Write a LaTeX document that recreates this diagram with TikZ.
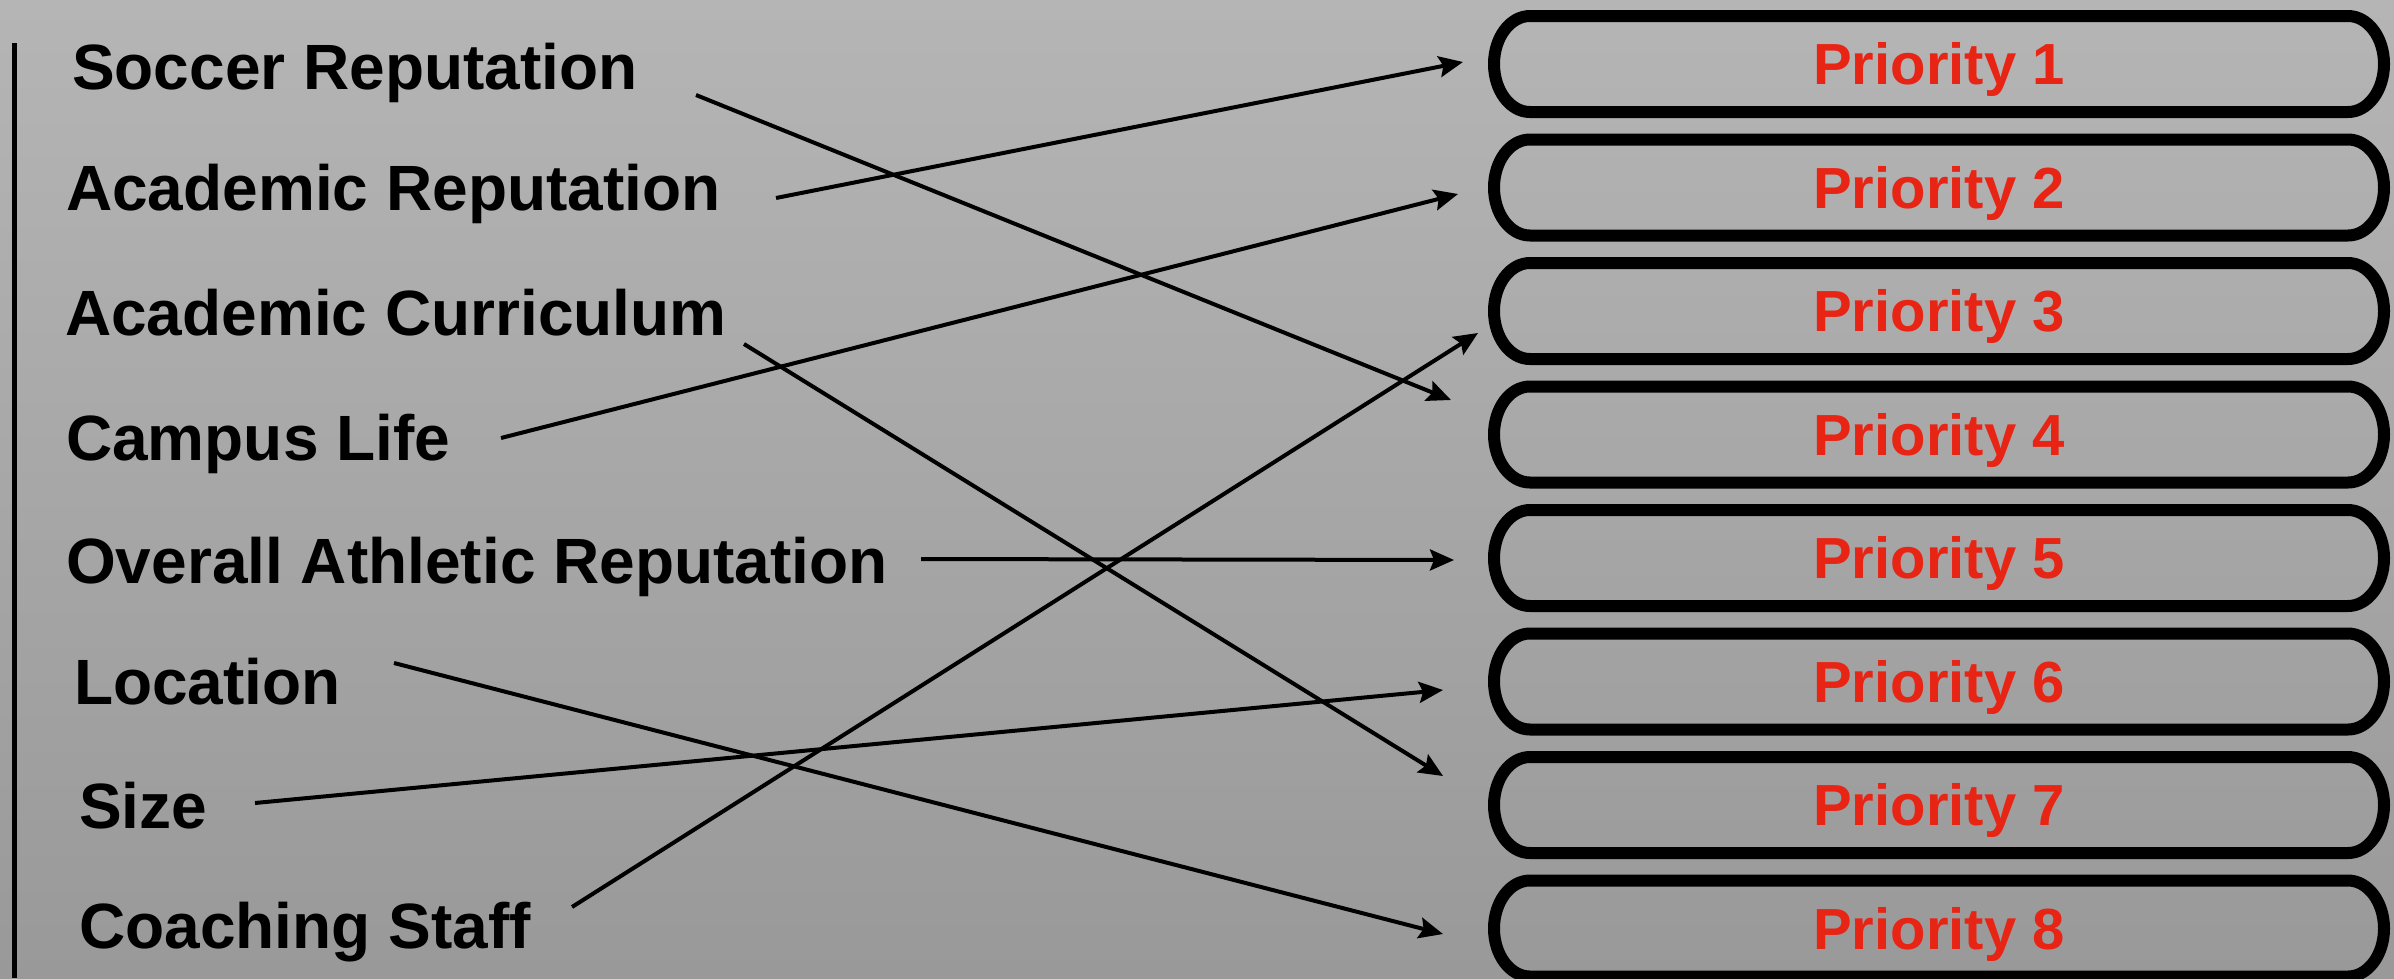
\documentclass[tikz,border=0pt]{standalone}
\usepackage{fontspec}
\setmainfont{Liberation Sans}
\usetikzlibrary{arrows.meta,calc}
\definecolor{prio}{RGB}{232,36,20}
\definecolor{bgtop}{RGB}{181,181,181}
\definecolor{bgbot}{RGB}{153,153,153}
\begin{document}
\begin{tikzpicture}[x=1pt,y=-1pt,
  lbl/.style={anchor=base west, inner sep=0pt, font=\fontsize{64}{64}\selectfont\bfseries},
  ptext/.style={inner sep=0pt, text height=41pt, text depth=0pt, text=prio, font=\fontsize{58}{58}\selectfont\bfseries},
  pframe/.style={line width=12pt, line join=round},
  arr/.style={line width=4pt, -{Stealth[length=24pt,width=21pt,inset=4pt]}}]
\useasboundingbox (0,0) rectangle (2394,978);
\shade[top color=bgtop, bottom color=bgbot] (0,0) rectangle (2394,978);
% left rule
\coordinate (rt) at (14,43);
\coordinate (rb) at (14,978);
\draw[line width=5pt] (rt) -- (rb);
% priority boxes
\foreach \i/\y in {1/64,2/187.5,3/311,4/434.5,5/558,6/681.5,7/805,8/928.5}{
  \node[ptext] (p\i) at (1939,\y) {Priority \i};
  \draw[pframe] ($(p\i.center)+(-409,-48)$) -- ($(p\i.center)+(409,-48)$)
     arc[start angle=90, end angle=-90, x radius=36pt, y radius=48pt]
     -- ($(p\i.center)+(-409,48)$)
     arc[start angle=270, end angle=90, x radius=36pt, y radius=48pt] -- cycle;
}
% criteria
\node[lbl] (soccer) at (72,89) {Soccer Reputation};
\node[lbl] (acrep) at (66,210) {Academic Reputation};
\node[lbl] (accur) at (65,335) {Academic Curriculum};
\node[lbl] (campus) at (66,460) {Campus Life};
\node[lbl] (overall) at (66,583) {Overall Athletic Reputation};
\node[lbl] (location) at (74,704) {Location};
\node[lbl] (size) at (79,828) {Size};
\node[lbl] (coach) at (79,948) {Coaching Staff};
% connector ends
\coordinate (s1) at (696,95);   \coordinate (t1) at (1451,400);
\coordinate (s2) at (776,198);  \coordinate (t2) at (1463,62);
\coordinate (s3) at (744,344);  \coordinate (t3) at (1443,776);
\coordinate (s4) at (501,438);  \coordinate (t4) at (1458,194);
\coordinate (s5) at (921,559);  \coordinate (t5) at (1454,560);
\coordinate (s6) at (394,663);  \coordinate (t6) at (1443,934);
\coordinate (s7) at (255,803);  \coordinate (t7) at (1443,690);
\coordinate (s8) at (572,907);  \coordinate (t8) at (1478,333);
\draw[arr] (s1) -- (t1);
\draw[arr] (s2) -- (t2);
\draw[arr] (s3) -- (t3);
\draw[arr] (s4) -- (t4);
\draw[arr] (s5) -- (t5);
\draw[arr] (s6) -- (t6);
\draw[arr] (s7) -- (t7);
\draw[arr] (s8) -- (t8);
\end{tikzpicture}
\end{document}
